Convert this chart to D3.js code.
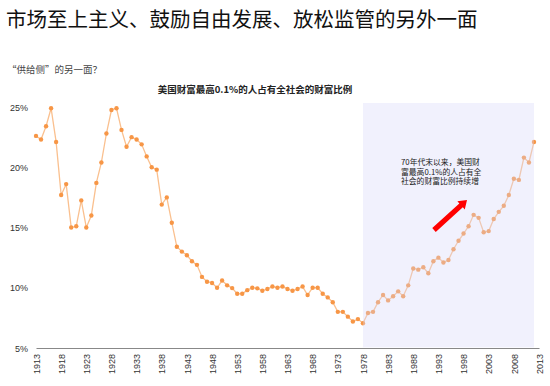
<!DOCTYPE html>
<html>
<head>
<meta charset="utf-8">
<script src="https://cdn.jsdelivr.net/npm/d3@7"></script>
<style>
  body { margin: 0; background: #fff; }
  text { font-family: "Liberation Sans", Arial, sans-serif; }
  .cjk { font-family: "Noto Sans CJK SC", sans-serif; }
</style>
</head>
<body>
<div id="wrapper"></div>
<script>
const years = d3.range(1913, 2013)
const shares = [
  22.6, 22.3, 23.4, 24.9, 22.1, 17.7, 18.6, 15.0, 15.1, 17.25,
  15.0, 16.0, 18.7, 20.4, 22.8, 24.75, 24.9, 23.1, 21.7, 22.5,
  22.3, 21.9, 20.9, 20.0, 19.8, 16.9, 17.5, 15.4, 13.4, 13.0,
  12.7, 12.2, 11.9, 10.9, 10.5, 10.4, 10.0, 10.6, 10.2, 9.97,
  9.5, 9.5, 9.8, 10.0, 9.95, 9.75, 9.9, 10.1, 10.0, 10.1,
  9.9, 9.75, 9.9, 10.1, 9.4, 10.0, 10.0, 9.5, 9.2, 8.8,
  8.0, 8.0, 7.6, 7.2, 7.4, 7.05, 7.9, 8.0, 8.8, 9.4,
  8.95, 9.3, 9.7, 9.3, 10.2, 11.6, 11.5, 11.7, 11.2, 12.2,
  12.5, 12.1, 12.3, 13.2, 13.9, 14.5, 15.1, 16.05, 15.8, 14.6,
  14.7, 15.7, 16.3, 16.8, 17.7, 19.05, 18.95, 20.8, 20.4, 22.1
]
const yTicks = [5, 10, 15, 20, 25]
const xTicks = d3.range(1913, 2014, 5)
const shadeYears = [1978, 2012]

const title = "市场至上主义、鼓励自由发展、放松监管的另外一面"
const subtitle = "“供给侧”的另一面？"
const chartTitle = "美国财富最高0.1%的人占有全社会的财富比例"
const noteLines = ["70年代末以来，美国财", "富最高0.1%的人占有全", "社会的财富比例持续增"]

const width = 550
const height = 386
const margin = {top: 107, right: 12, bottom: 38, left: 36}

const svg = d3.select("#wrapper").append("svg")
  .attr("width", width)
  .attr("height", height)

const x = d3.scaleLinear()
  .domain([1913, 2013])
  .range([margin.left, width - margin.right + 1])
const y = d3.scaleLinear()
  .domain([5, 25])
  .range([height - margin.bottom, margin.top])

// titles
svg.append("text")
  .attr("class", "cjk")
  .attr("x", 6).attr("y", 27)
  .attr("font-size", 20.5)
  .attr("fill", "#111")
  .text(title)

svg.append("text")
  .attr("class", "cjk")
  .attr("x", 7).attr("y", 73)
  .attr("font-size", 9.5)
  .attr("fill", "#444")
  .text(subtitle)

svg.append("text")
  .attr("class", "cjk")
  .attr("x", 255).attr("y", 93)
  .attr("text-anchor", "middle")
  .attr("font-size", 9.5)
  .attr("font-weight", "bold")
  .attr("fill", "#222")
  .text(chartTitle)

// y tick labels
svg.selectAll(".ylab")
  .data(yTicks)
  .enter().append("text")
    .attr("class", "ylab")
    .attr("x", 28)
    .attr("y", d => y(d) + 3.5)
    .attr("text-anchor", "end")
    .attr("font-size", 9)
    .attr("fill", "#333")
    .text(d => d + "%")

// x axis
const xAxis = d3.axisBottom(x)
  .tickValues(xTicks)
  .tickFormat(d3.format("d"))
  .tickSize(0)
const gx = svg.append("g")
  .attr("transform", `translate(0,${y(5)})`)
  .call(xAxis)
gx.select(".domain").attr("stroke", "#888").attr("stroke-width", 1.2)
gx.selectAll(".tick text")
  .attr("font-family", "'Liberation Sans', Arial, sans-serif")
  .attr("font-size", 9)
  .attr("fill", "#333")
  .attr("transform", "rotate(-90)")
  .attr("text-anchor", "end")
  .attr("x", -6)
  .attr("y", 0)
  .attr("dy", "0.35em")

// line + dots
const data = years.map((yr, i) => ({year: yr, value: shares[i]}))
const line = d3.line()
  .x(d => x(d.year))
  .y(d => y(d.value))

svg.append("path")
  .datum(data)
  .attr("d", line)
  .attr("fill", "none")
  .attr("stroke", "#fac08f")
  .attr("stroke-width", 1.3)

svg.selectAll(".dot")
  .data(data)
  .enter().append("circle")
    .attr("class", "dot")
    .attr("cx", d => x(d.year))
    .attr("cy", d => y(d.value))
    .attr("r", 2.2)
    .attr("fill", "#f79646")

// shaded period drawn on top, semi-transparent
svg.append("rect")
  .attr("x", x(shadeYears[0]))
  .attr("y", 103)
  .attr("width", x(shadeYears[1]) - x(shadeYears[0]))
  .attr("height", y(5) - 103 - 0.6)
  .attr("fill", "#d8d8f8")
  .attr("opacity", 0.35)

// annotation
svg.append("text")
  .attr("class", "cjk")
  .attr("font-size", 7.8)
  .attr("fill", "#222")
  .selectAll("tspan")
  .data(noteLines)
  .enter().append("tspan")
    .attr("x", 401)
    .attr("y", (d, i) => 165 + i * 9.5)
    .text(d => d)

// arrow
const a0 = [434, 230], a1 = [467, 200]
const ang = Math.atan2(a1[1] - a0[1], a1[0] - a0[0])
const len = Math.hypot(a1[0] - a0[0], a1[1] - a0[1])
svg.append("path")
  .attr("transform", `translate(${a0[0]},${a0[1]}) rotate(${ang * 180 / Math.PI})`)
  .attr("d", `M0,-2.6 L${len - 8},-2.6 L${len - 8},-5.5 L${len},0 L${len - 8},5.5 L${len - 8},2.6 L0,2.6 Z`)
  .attr("fill", "#ff0000")
</script>
</body>
</html>
